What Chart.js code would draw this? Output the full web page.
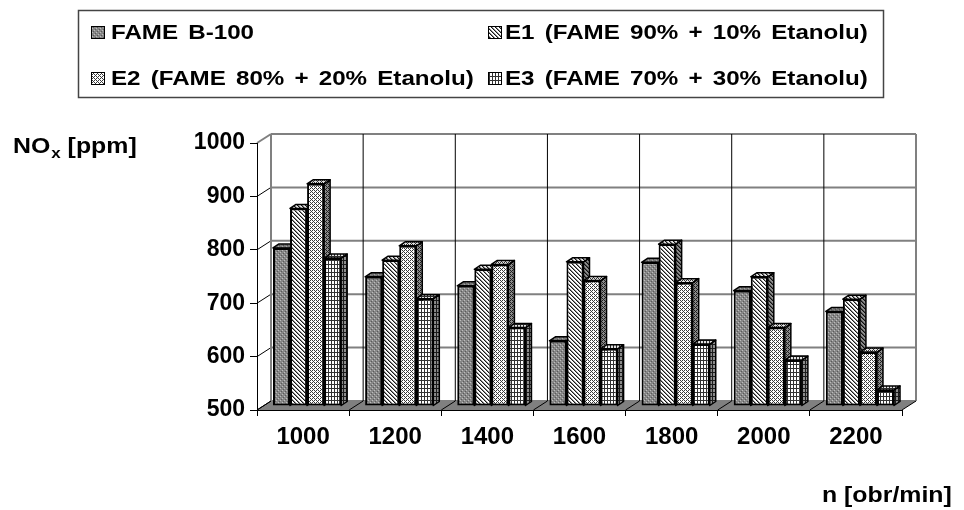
<!DOCTYPE html>
<html>
<head>
<meta charset="utf-8">
<script src="https://cdn.jsdelivr.net/npm/chart.js@4/dist/chart.umd.min.js"></script>
<style>
  html, body { margin: 0; padding: 0; background: #fff; }
  #wrap { width: 964px; height: 510px; position: relative; }
</style>
</head>
<body>
<div id="wrap"><canvas id="c" width="964" height="510"></canvas></div>
<script>
// Engine speed categories and NOx emissions [ppm]
const categories = ['1000', '1200', '1400', '1600', '1800', '2000', '2200'];
const fameB100 = [796, 742, 725, 622, 769, 716, 677];
const e1Blend  = [870, 773, 756, 770, 803, 742, 700];
const e2Blend  = [916, 800, 765, 735, 731, 647, 601];
const e3Blend  = [777, 701, 647, 607, 616, 586, 530];
const seriesLabels = [
  'FAME B-100',
  'E1 (FAME 90% + 10% Etanolu)',
  'E2 (FAME 80% + 20% Etanolu)',
  'E3 (FAME 70% + 30% Etanolu)'
];
const yTicks = [500, 600, 700, 800, 900, 1000];
const yMin = 500, yMax = 1000;

Chart.defaults.font.family = '"Liberation Sans", Arial, Helvetica, sans-serif';
Chart.defaults.font.weight = 'bold';
Chart.defaults.color = '#000';

const FONT = '"Liberation Sans", Arial, Helvetica, sans-serif';
const WALL = { x: 14, y: 9 };     // depth of the back wall
const SHIFT = { x: 4, y: 4 };     // bars stand a little behind the front plane
const BDEPTH = { x: 6, y: 4 };    // depth of each column
const TEXT_SX = 1.13;             // horizontal stretch of the lettering

// ---- fill patterns -------------------------------------------------------
function makeTile(kind, shade) {
  const specs = {
    fame: { w: 4, h: 4, bg: '#878787', px: [[0,0,'#bdbdbd'],[2,2,'#bdbdbd'],[1,3,'#5a5a5a'],[3,1,'#5a5a5a']] },
    e1:   { w: 4, h: 4, bg: '#ffffff', px: [[0,0,'#1a1a1a'],[1,1,'#1a1a1a'],[2,2,'#1a1a1a'],[3,3,'#1a1a1a'],
                                            [1,0,'#8c8c8c'],[2,1,'#8c8c8c'],[3,2,'#8c8c8c'],[0,3,'#8c8c8c']] },
    e2:   { w: 4, h: 4, bg: '#ffffff', px: [[0,0,'#3a3a3a'],[2,0,'#3a3a3a'],[1,1,'#3a3a3a'],[0,2,'#3a3a3a'],[2,2,'#3a3a3a'],[3,3,'#3a3a3a']] },
    e3:   { w: 3, h: 4, bg: '#ffffff', px: [[0,0,'#333'],[1,0,'#333'],[2,0,'#333'],[0,1,'#333'],[0,2,'#333'],[0,3,'#333']] }
  };
  const s = specs[kind];
  const c = document.createElement('canvas');
  c.width = s.w; c.height = s.h;
  const g = c.getContext('2d');
  g.fillStyle = s.bg; g.fillRect(0, 0, s.w, s.h);
  s.px.forEach(([x, y, col]) => { g.fillStyle = col; g.fillRect(x, y, 1, 1); });
  if (shade > 0) { g.fillStyle = 'rgba(0,0,0,' + shade + ')'; g.fillRect(0, 0, s.w, s.h); }
  return c;
}
const ctx = document.getElementById('c').getContext('2d');
const kinds = ['fame', 'e1', 'e2', 'e3'];
const frontFill = kinds.map(k => ctx.createPattern(makeTile(k, 0), 'repeat'));
const topFill   = kinds.map(k => ctx.createPattern(makeTile(k, 0.12), 'repeat'));
const sideFill  = kinds.map(k => ctx.createPattern(makeTile(k, 0.45), 'repeat'));

// ---- walls and floor behind the columns ---------------------------------
function categoryEdges(chart) {
  const xs = chart.scales.x, { left, right } = chart.chartArea;
  const edges = [left];
  for (let i = 1; i < categories.length; i++) {
    edges.push((xs.getPixelForValue(i - 1) + xs.getPixelForValue(i)) / 2);
  }
  edges.push(right);
  return edges;
}

const wallsPlugin = {
  id: 'walls',
  beforeDraw(chart) {
    const c = chart.ctx, { left, right, top, bottom } = chart.chartArea;
    const ys = chart.scales.y;
    c.save();
    c.fillStyle = '#fff';
    c.fillRect(0, 0, chart.width, chart.height);

    // floor
    c.beginPath();
    c.moveTo(left, bottom); c.lineTo(right, bottom);
    c.lineTo(right + WALL.x, bottom - WALL.y); c.lineTo(left + WALL.x, bottom - WALL.y);
    c.closePath();
    c.fillStyle = '#808080'; c.fill();

    // horizontal grid on the back wall and its slanted continuation on the side wall
    yTicks.forEach(v => {
      const y = ys.getPixelForValue(v);
      c.strokeStyle = '#808080'; c.lineWidth = 2;
      c.beginPath(); c.moveTo(left + WALL.x, y - WALL.y); c.lineTo(right + WALL.x, y - WALL.y); c.stroke();
      c.strokeStyle = v === yMax ? '#808080' : '#000'; c.lineWidth = v === yMax ? 2 : 1;
      c.beginPath(); c.moveTo(left, y); c.lineTo(left + WALL.x, y - WALL.y); c.stroke();
    });

    // vertical category lines on the back wall and on the floor
    const edges = categoryEdges(chart);
    edges.forEach((x, i) => {
      const last = i === edges.length - 1, first = i === 0;
      c.strokeStyle = (first || last) ? '#808080' : '#000';
      c.lineWidth = (first || last) ? 2 : 1;
      c.beginPath(); c.moveTo(x + WALL.x, top - WALL.y); c.lineTo(x + WALL.x, bottom - WALL.y); c.stroke();
      c.strokeStyle = '#000'; c.lineWidth = 1;
      c.beginPath(); c.moveTo(x, bottom); c.lineTo(x + WALL.x, bottom - WALL.y); c.stroke();
    });
    c.restore();
  }
};

// ---- 3D columns: side and top faces, then the library's own front face ---
const columnsPlugin = {
  id: 'columns3d',
  beforeDatasetsDraw(chart) {
    const c = chart.ctx;
    c.save();
    c.translate(SHIFT.x, -SHIFT.y);
    chart.data.datasets.forEach((ds, di) => {
      const meta = chart.getDatasetMeta(di);
      meta.data.forEach(el => {
        const { x, y, base, width } = el.getProps(['x', 'y', 'base', 'width'], true);
        const l = x - width / 2, r = x + width / 2;
        c.lineWidth = 1.5; c.strokeStyle = '#000'; c.lineJoin = 'round';
        // side face
        c.beginPath();
        c.moveTo(r, y); c.lineTo(r + BDEPTH.x, y - BDEPTH.y);
        c.lineTo(r + BDEPTH.x, base - BDEPTH.y); c.lineTo(r, base);
        c.closePath();
        c.fillStyle = sideFill[di]; c.fill(); c.stroke();
        // top face
        c.beginPath();
        c.moveTo(l, y); c.lineTo(l + BDEPTH.x, y - BDEPTH.y);
        c.lineTo(r + BDEPTH.x, y - BDEPTH.y); c.lineTo(r, y);
        c.closePath();
        c.fillStyle = topFill[di]; c.fill(); c.stroke();
        // front face
        el.draw(c, chart.chartArea);
      });
    });
    c.restore();
    return false;
  }
};

// ---- lettering: legend box and axis titles -------------------------------
function stretchText(c, str, x, y, sx) {
  c.save();
  c.translate(x, y); c.scale(sx, 1);
  c.fillText(str, 0, 0);
  const w = c.measureText(str).width * sx;
  c.restore();
  return w;
}

const labelsPlugin = {
  id: 'lettering',
  afterDraw(chart) {
    const c = chart.ctx;
    c.save();
    // legend frame
    c.strokeStyle = '#444'; c.lineWidth = 1.5;
    c.strokeRect(78.5, 10.5, 805, 87);
    const slots = [
      { sx: 91, tx: 111, y: 33 }, { sx: 488, tx: 505, y: 33 },
      { sx: 91, tx: 111, y: 79 }, { sx: 488, tx: 505, y: 79 }
    ];
    c.font = 'bold 21px ' + FONT;
    c.textBaseline = 'middle';
    c.fillStyle = '#000';
    try { c.wordSpacing = '3px'; } catch (e) {}
    seriesLabels.forEach((txt, i) => {
      const s = slots[i];
      c.fillStyle = frontFill[i];
      c.fillRect(s.sx, s.y - 7, 14, 13);
      c.strokeStyle = '#000'; c.lineWidth = 1;
      c.strokeRect(s.sx + 0.5, s.y - 6.5, 13, 12);
      c.fillStyle = '#000';
      stretchText(c, txt, s.tx, s.y, 1.15);
    });
    try { c.wordSpacing = '0px'; } catch (e) {}

    // y-axis title with subscript
    c.textBaseline = 'alphabetic';
    let x = 13;
    c.font = 'bold 22px ' + FONT;
    x += stretchText(c, 'NO', x, 153, TEXT_SX);
    c.font = 'bold 15px ' + FONT;
    x += stretchText(c, 'x', x + 1, 158, TEXT_SX) + 1;
    c.font = 'bold 22px ' + FONT;
    stretchText(c, ' [ppm]', x, 153, TEXT_SX);

    // x-axis title
    stretchText(c, 'n [obr/min]', 822, 502, TEXT_SX);
    c.restore();
  }
};

new Chart(ctx, {
  type: 'bar',
  data: {
    labels: categories,
    datasets: [fameB100, e1Blend, e2Blend, e3Blend].map((vals, i) => ({
      label: seriesLabels[i],
      data: vals,
      base: yMin,
      backgroundColor: frontFill[i],
      borderColor: '#000',
      borderWidth: 2,
      borderSkipped: false,
      categoryPercentage: 0.74,
      barPercentage: 1.0
    }))
  },
  options: {
    responsive: false,
    animation: false,
    events: [],
    layout: { padding: { top: 143, right: 62, left: 0, bottom: 0 } },
    plugins: { legend: { display: false }, tooltip: { enabled: false } },
    scales: {
      x: {
        type: 'category',
        offset: true,
        grid: { offset: true, drawOnChartArea: false, color: '#000', tickLength: 6, lineWidth: 1 },
        border: { color: '#000', width: 1 },
        ticks: { font: { size: 24, weight: 'bold' }, padding: 7, color: '#000' },
        afterFit: s => { s.height = 100; }
      },
      y: {
        min: yMin, max: yMax,
        afterBuildTicks: s => { s.ticks = yTicks.map(v => ({ value: v })); },
        grid: { drawOnChartArea: false, color: '#000', tickLength: 7 },
        border: { color: '#000', width: 1 },
        ticks: { font: { size: 23, weight: 'bold' }, padding: 5, color: '#000', callback: v => String(v) },
        afterFit: s => { s.width = 257; }
      }
    }
  },
  plugins: [wallsPlugin, columnsPlugin, labelsPlugin]
});
</script>
</body>
</html>
